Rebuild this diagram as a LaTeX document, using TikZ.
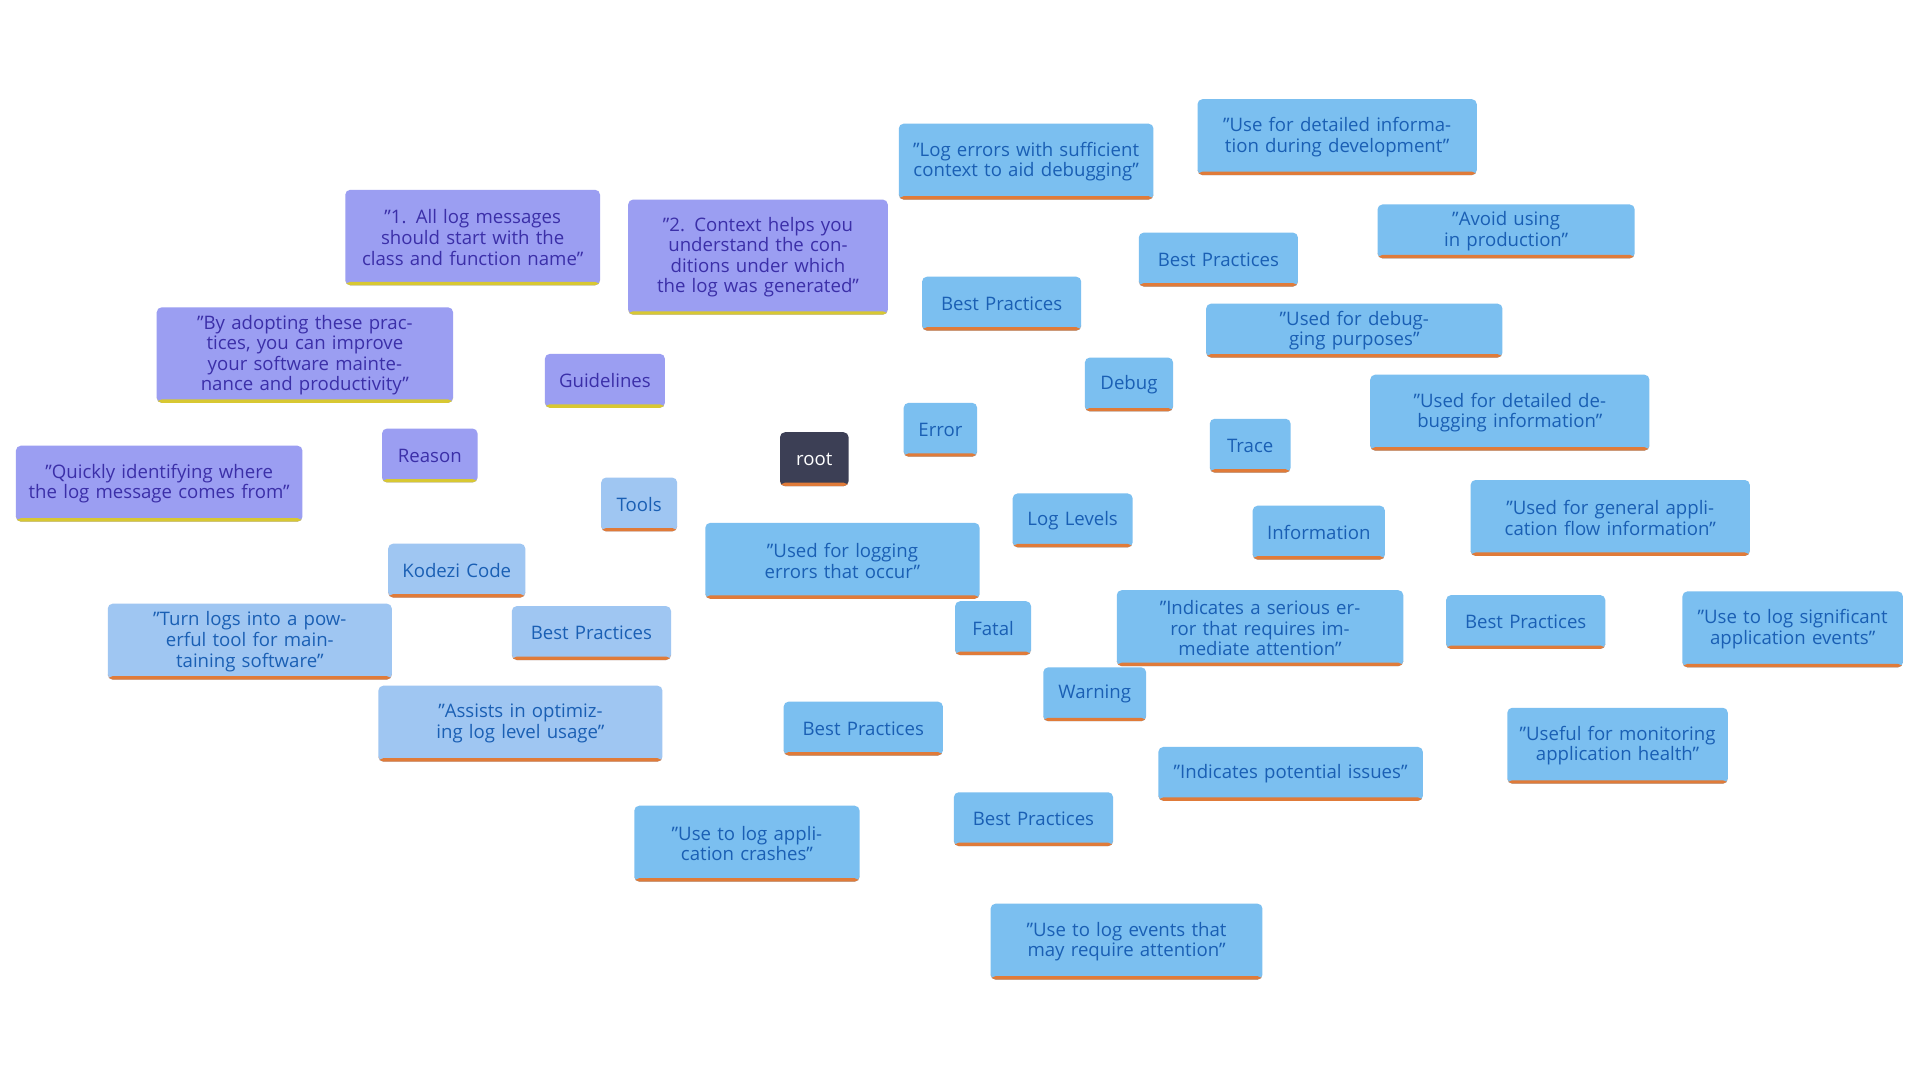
\documentclass[tikz,border=0pt]{standalone}
\usepackage{fontspec}
\setmainfont{Open Sans}
\usetikzlibrary{backgrounds}
\definecolor{bluefill}{HTML}{7BBFF0}
\definecolor{bluetext}{HTML}{1A5FB4}
\definecolor{purplefill}{HTML}{9B9EF2}
\definecolor{purpletext}{HTML}{3B2FA8}
\definecolor{lightfill}{HTML}{9FC6F2}
\definecolor{rootfill}{HTML}{3C3F55}
\definecolor{barorange}{HTML}{E07B39}
\definecolor{baryellow}{HTML}{D8C832}
\tikzset{
  box/.style 2 args={rectangle, rounded corners=2pt, inner sep=1pt, align=center,
    minimum width=#1, minimum height=#2, text width=#1-10pt,
    font=\fontsize{7.6}{8.4}\selectfont},
  obar/.style={path picture={\fill[barorange] ([yshift=1.4pt]path picture bounding box.south west) rectangle (path picture bounding box.south east);}},
  ybar/.style={path picture={\fill[baryellow] ([yshift=1.4pt]path picture bounding box.south west) rectangle (path picture bounding box.south east);}},
  lvl/.style={fill=bluefill, text=bluetext, obar},
  gdl/.style={fill=purplefill, text=purpletext, ybar},
  tol/.style={fill=lightfill, text=bluetext, obar},
  blueline/.style={draw=bluefill, line width=1.5pt},
  purpleline/.style={draw=purplefill, line width=1.5pt},
  lightline/.style={draw=lightfill, line width=1.5pt}
}
\begin{document}
\begin{tikzpicture}[x=0.5pt,y=-0.5pt]
\useasboundingbox[fill=white] (0,0) rectangle (1568,882);

% root
\node[box={28pt}{22pt}, fill=rootfill, text=white, obar] (root) at (665,375) {root};

% guidelines branch
\node[box={49pt}{22pt}, gdl] (guide) at (494,311) {Guidelines};
\node[box={104pt}{39pt}, gdl] (g1) at (386,194) {"1. All log messages should start with the class and function name"};
\node[box={106pt}{47pt}, gdl] (g2) at (619,210) {"2. Context helps you understand the conditions under which the log was generated"};
\node[box={121pt}{39pt}, gdl] (g3) at (249,290) {"By adopting these practices, you can improve your software maintenance and productivity"};
\node[box={39pt}{22pt}, gdl] (reason) at (351,372) {Reason};
\node[box={117pt}{31pt}, gdl] (r1) at (130,395) {"Quickly identifying where the log message comes from"};

% tools branch
\node[box={31pt}{22pt}, tol] (tools) at (522,412) {Tools};
\node[box={56pt}{22pt}, tol] (kodezi) at (373,466) {Kodezi Code};
\node[box={65pt}{22pt}, tol] (toolbp) at (483,517) {Best Practices};
\node[box={116pt}{31pt}, tol] (t1) at (204,524) {"Turn logs into a powerful tool for maintaining software"};
\node[box={116pt}{31pt}, tol] (t2) at (425,591) {"Assists in optimizing log level usage"};

% log levels branch
\node[box={49pt}{22pt}, lvl] (levels) at (876,425) {Log Levels};
\node[box={30pt}{22pt}, lvl] (error) at (768,351) {Error};
\node[box={65pt}{22pt}, lvl] (errbp) at (818,248) {Best Practices};
\node[box={104pt}{31pt}, lvl] (e1) at (838,132) {"Log errors with sufficient context to aid debugging"};
\node[box={112pt}{31pt}, lvl] (e2) at (688,458) {"Used for logging errors that occur"};
\node[box={36pt}{22pt}, lvl] (debug) at (922,314) {Debug};
\node[box={65pt}{22pt}, lvl] (dbgbp) at (995,212) {Best Practices};
\node[box={114pt}{31pt}, lvl] (d1) at (1092,112) {"Use for detailed information during development"};
\node[box={105pt}{22pt}, lvl] (d2) at (1230,189) {"Avoid using in production"};
\node[box={121pt}{22pt}, lvl] (d3) at (1106,270) {"Used for debugging purposes"};
\node[box={33pt}{22pt}, lvl] (trace) at (1021,364) {Trace};
\node[box={114pt}{31pt}, lvl] (tr1) at (1233,337) {"Used for detailed debugging information"};
\node[box={54pt}{22pt}, lvl] (info) at (1077,435) {Information};
\node[box={114pt}{31pt}, lvl] (i1) at (1315,423) {"Used for general application flow information"};
\node[box={65pt}{22pt}, lvl] (infobp) at (1246,508) {Best Practices};
\node[box={90pt}{31pt}, lvl] (i2) at (1464,514) {"Use to log significant application events"};
\node[box={90pt}{31pt}, lvl] (i3) at (1321,609) {"Useful for monitoring application health"};
\node[box={31pt}{22pt}, lvl] (fatal) at (811,513) {Fatal};
\node[box={117pt}{31pt}, lvl] (f1) at (1029,513) {"Indicates a serious error that requires immediate attention"};
\node[box={65pt}{22pt}, lvl] (fatbp) at (705,595) {Best Practices};
\node[box={92pt}{31pt}, lvl] (f2) at (610,689) {"Use to log application crashes"};
\node[box={42pt}{22pt}, lvl] (warn) at (894,567) {Warning};
\node[box={108pt}{22pt}, lvl] (w1) at (1054,632) {"Indicates potential issues"};
\node[box={65pt}{22pt}, lvl] (warnbp) at (844,669) {Best Practices};
\node[box={111pt}{31pt}, lvl] (w2) at (920,769) {"Use to log events that may require attention"};

\begin{scope}[on background layer]
  \foreach \a/\b in {root/guide, guide/g1, guide/g2, guide/g3, guide/reason, reason/r1}
    \draw[purpleline] (\a.center) -- (\b.center);
  \foreach \a/\b in {root/tools, tools/kodezi, tools/toolbp, toolbp/t1, kodezi/t2}
    \draw[lightline] (\a.center) -- (\b.center);
  \foreach \a/\b in {root/levels, levels/error, error/errbp, errbp/e1, error/e2,
      levels/debug, debug/dbgbp, dbgbp/d1, dbgbp/d2, debug/d3,
      levels/trace, trace/tr1, levels/info, info/i1, info/infobp, infobp/i2, infobp/i3,
      levels/fatal, fatal/f1, fatal/fatbp, fatbp/f2,
      levels/warn, warn/w1, warn/warnbp, warnbp/w2}
    \draw[blueline] (\a.center) -- (\b.center);
\end{scope}
\end{tikzpicture}
\end{document}
